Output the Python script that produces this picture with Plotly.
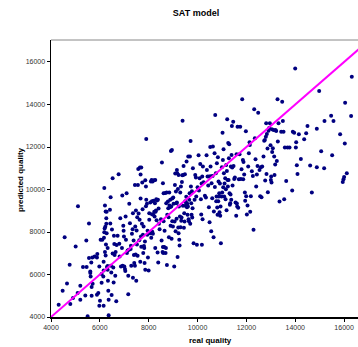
import plotly.graph_objects as go

real_quality = [4314,4477,4655,4559,4764,4791,4900,5009,5105,5091,5200,5200,5309,5405,5446,5500,5459,5555,5555,5609,5609,5623,5650,5691,5664,5664,5705,5787,5882,5882,5896,5937,5978,5978,6005,6032,6073,6073,6101,6142,6155,6155,6155,6169,6182,6196,6182,6223,6250,6209,6237,6209,6237,6278,6264,6264,6278,6319,6319,6291,6319,6332,6346,6360,6360,6414,6428,6441,6455,6469,6482,6496,6523,6523,6551,6564,6578,6592,6605,6632,6646,6673,6687,6728,6769,6796,6810,6837,6864,6905,6933,6919,6960,6973,6987,7001,7028,7042,7055,7069,7096,7110,7137,7164,7164,7192,7205,7232,7260,7273,7287,7314,7341,7355,7355,7382,7396,7409,7437,7437,7450,7464,7477,7491,7505,7532,7518,7546,7559,7573,7587,7614,7628,7641,7655,7668,7668,7682,7696,7696,7723,7737,7750,7764,7778,7791,7805,7818,7832,7846,7860,7860,7887,7887,7900,7900,7928,7941,7955,7969,7996,8023,8023,8050,8064,8078,8105,8091,8119,8132,8132,8146,8160,8173,8187,8200,8214,8228,8241,8255,8269,8269,8282,8296,8310,8323,8337,8364,8378,8391,8405,8419,8446,8501,8528,8542,8569,8583,8583,8596,8610,8610,8637,8651,8678,8692,8705,8719,8733,8746,8760,8787,8801,8814,8828,8842,8855,8869,8883,8896,8910,8924,8937,8951,8965,8965,8992,9006,9019,9046,9060,9074,9087,9101,9115,9128,9142,9155,9155,9169,9183,9196,9210,9224,9224,9237,9251,9265,9278,9292,9306,9319,9333,9346,9360,9374,9387,9401,9415,9428,9442,9456,9469,9483,9497,9510,9524,9538,9551,9565,9579,9592,9606,9620,9633,9647,9660,9674,9688,9701,9715,9729,9742,9756,9770,9783,9797,9810,9838,9879,9906,9933,9947,9974,10001,10042,10056,10083,10110,10137,10151,10165,10178,10192,10206,10219,10246,10301,10342,10369,10383,10410,10438,10465,10478,10492,10520,10533,10547,10560,10574,10601,10615,10628,10656,10669,10697,10710,10724,10751,10765,10778,10792,10806,10819,10833,10847,10860,10874,10888,10901,10915,10929,10942,10956,10983,10997,11010,11024,11038,11051,11065,11079,11092,11106,11133,11147,11160,11174,11188,11201,11215,11229,11242,11256,11270,11283,11297,11310,11324,11338,11351,11365,11379,11392,11406,11420,11433,11460,11474,11501,11529,11556,11583,11597,11610,11624,11638,11665,11692,11720,11747,11774,11801,11829,11856,11870,11883,11910,11938,11951,11979,11992,12020,12047,12074,12101,12129,12142,12156,12183,12224,12265,12292,12320,12347,12374,12401,12429,12456,12483,12538,12565,12592,12620,12647,12701,12729,12756,12770,12797,12811,12824,12838,12865,12879,12906,12933,12961,12988,13002,13015,13029,13043,13056,13083,13111,13138,13152,13179,13193,13220,13247,13275,13288,13316,13357,13425,13466,13493,13521,13548,13575,13630,13684,13766,13875,13902,13957,13998,14025,14039,14066,14093,14148,14230,14366,14448,14502,14611,14680,14884,14884,14980,15062,15184,15198,15470,15511,15566,15838,15947,15975,16002,16029,16043,16111,16288,16316]

predicted_quality = [4580,5237,5582,7758,6459,4611,4893,7320,9215,5127,5472,4814,6349,5017,7602,4031,6349,8400,6772,6145,6067,5910,6568,6803,5410,5002,5566,6850,6803,5049,6960,5127,6380,4532,4767,7633,6020,5613,7633,5910,6600,6192,4532,7727,10076,8165,7993,8244,7414,7054,6897,9246,8964,8949,8651,8385,7946,7242,6396,6349,6224,5707,5237,4814,4078,9043,8400,9638,6412,6098,5033,8118,6991,10530,6333,5629,7821,7430,6913,5942,7054,4736,7383,7821,10718,7445,6850,8651,6380,7242,6412,9716,8291,8056,7789,6380,6255,6161,8729,7633,9826,7007,7132,5942,5065,7164,9325,8416,7195,7351,6412,7915,8134,8886,5848,7602,6913,6537,10217,6412,8259,6944,9011,5707,8071,8698,7414,6881,10217,10969,8870,7617,8573,11031,6600,9576,10702,7789,11031,7304,8385,10326,9074,7868,7007,8259,7336,7242,6537,7555,6224,10436,10139,9215,9513,12378,9325,7868,8056,6803,6192,8573,8886,7946,9387,7946,7727,10373,10451,9450,8839,8009,10373,7915,8808,9466,10436,8949,8729,9356,10451,7242,8949,9011,9544,8557,9482,7038,9513,6568,9105,8385,8134,8604,7602,11266,7054,10295,7289,7007,9826,8510,7289,8056,9841,7007,7242,9356,9857,6443,8808,9435,9121,8698,7758,9857,9246,9168,9513,8291,11814,9199,7680,11861,8510,9576,8259,9622,9325,6380,8494,10217,10749,8040,9904,9356,8620,9387,10921,10765,6819,10029,8212,7946,10686,9199,7633,7367,8729,9857,8228,10139,8526,8683,10357,10670,13239,9231,10686,11109,8197,8886,8494,10718,9450,9231,9387,9654,11313,9168,9325,8808,9199,11548,8604,8510,9513,9826,11548,8385,12284,10139,9356,8808,9920,8683,9121,11000,7476,9513,10686,10561,9670,7398,10107,11611,9951,10530,11203,9544,8823,10279,7398,10608,8604,11078,10342,9701,9622,11611,10921,10608,10185,9168,10608,8463,12002,11078,10624,8040,10295,9591,10639,12018,7758,8964,11705,10123,13505,10765,9450,9670,11234,9152,8808,11517,9450,10373,9670,9826,8933,10279,8761,9199,7476,9670,11046,9857,12676,11391,10107,11893,10765,9670,10279,10530,9544,10014,11156,9027,10874,13301,10451,10139,12190,10451,11470,12127,9826,9278,9356,9763,11078,9513,11626,12990,11031,10185,13192,11109,10498,10561,9387,8761,11658,9340,9199,12958,9137,10483,11658,12958,10498,10952,14241,11391,10483,11297,10702,9857,9466,12738,9685,8823,9246,11078,11705,12221,12096,8949,9685,10859,10639,8103,13771,12409,11423,10139,10702,11109,13615,10921,9685,11046,9638,11078,11548,12299,12331,10420,12487,13113,10733,12613,11924,9873,12770,12895,13113,12080,10451,10608,10326,12833,11767,11940,12801,11548,10686,11172,12801,12754,11344,14241,12253,13113,9435,12723,14131,13223,12723,9544,11971,10404,11971,11971,9951,12723,12676,15698,11971,12221,11140,10733,12597,11438,12362,12644,12990,11125,9857,11046,12864,14633,11799,11000,13223,13474,11611,13223,12597,10357,10483,10592,12159,14084,10765,13458,15306]

ideal_x = [4000, 17000]
ideal_y = [4000, 17000]

x_range = [4000, 16570]
y_range = [4000, 17035]
tick_vals = [4000, 6000, 8000, 10000, 12000, 14000, 16000]

FONT = "Liberation Sans, Arial, sans-serif"

fig = go.Figure()
fig.add_trace(go.Scatter(
    x=real_quality, y=predicted_quality, mode="markers",
    marker=dict(symbol="circle", size=4, color="#000080", line=dict(width=0)),
    showlegend=False, hoverinfo="skip", cliponaxis=True))
fig.add_trace(go.Scatter(
    x=ideal_x, y=ideal_y, mode="lines",
    line=dict(color="#FF00FF", width=2), showlegend=False, hoverinfo="skip"))

axis_common = dict(showgrid=False, zeroline=False, automargin=False)

fig.update_layout(
    width=358, height=347,
    margin=dict(l=51, r=0, t=40, b=30, autoexpand=False),
    paper_bgcolor="white", plot_bgcolor="white",
    font=dict(family=FONT, color="#000000"),
    title=dict(text="<b>SAT model</b>", x=196/358, xanchor="center",
               y=1-13/347, yanchor="middle", font=dict(size=9, family=FONT)),
    xaxis=dict(range=x_range, tickvals=tick_vals, tickformat="d",
               showline=True, linecolor="#000000", linewidth=1.5, ticks="outside",
               ticklen=3, tickcolor="#000000", tickfont=dict(size=7, color="#333333"),
               **axis_common),
    yaxis=dict(range=y_range, tickvals=tick_vals, tickformat="d",
               showline=True, linecolor="#000000", linewidth=1.5, ticks="outside",
               ticklen=3, tickcolor="#000000", tickfont=dict(size=7, color="#333333"),
               **axis_common),
    xaxis2=dict(range=x_range, tickvals=tick_vals, overlaying="x", matches="x",
                side="bottom", showticklabels=False, showline=False,
                ticks="inside", ticklen=3, tickcolor="#000000", **axis_common),
    yaxis2=dict(range=y_range, tickvals=tick_vals, overlaying="y", matches="y",
                side="left", showticklabels=False, showline=False,
                ticks="inside", ticklen=3, tickcolor="#000000", **axis_common),
    shapes=[dict(type="line", xref="paper", yref="paper", x0=0, x1=1, y0=1, y1=1,
                 line=dict(color="#888888", width=1))],
    annotations=[
        dict(text="<b>real quality</b>", xref="paper", yref="paper",
             x=(210-51)/307, y=-(340-317)/277, xanchor="center", yanchor="middle",
             showarrow=False, font=dict(size=8, family=FONT)),
        dict(text="<b>predicted quality</b>", xref="paper", yref="paper",
             x=-(51-20)/307, y=(317-180)/277, xanchor="center", yanchor="middle",
             textangle=-90, showarrow=False, font=dict(size=8, family=FONT)),
    ],
)

fig.write_html(
    "out.html",
    config={"displayModeBar": False, "staticPlot": True},
    post_script="document.body.style.margin='0';document.body.style.overflow='hidden';",
)
